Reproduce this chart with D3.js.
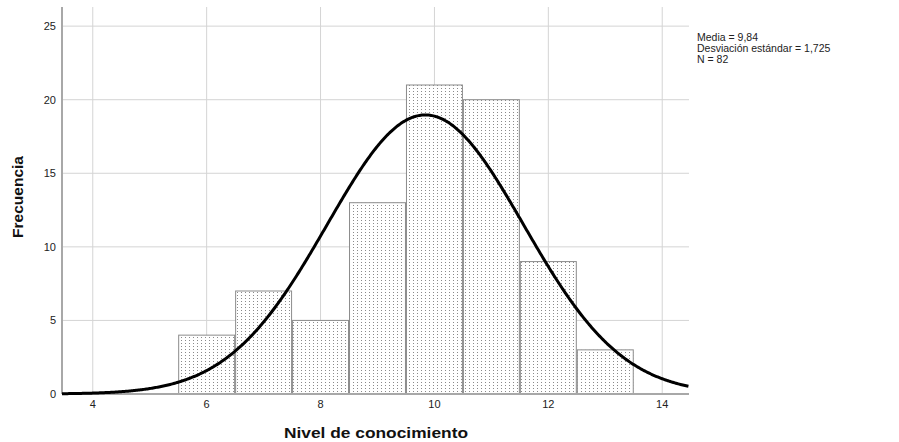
<!DOCTYPE html>
<html>
<head>
<meta charset="utf-8">
<script src="https://cdn.jsdelivr.net/npm/d3@7"></script>
<style>
  body { margin: 0; background: #fff; }
  svg { display: block; font-family: "Liberation Sans", Arial, sans-serif; }
</style>
</head>
<body>
<div id="chart"></div>
<script>
// histogram data
const binCenters = [6, 7, 8, 9, 10, 11, 12, 13];
const binCounts = [4, 7, 5, 13, 21, 20, 9, 3];
const xTicks = [4, 6, 8, 10, 12, 14];
const yTicks = [0, 5, 10, 15, 20, 25];
const statLines = ['Media = 9,84', 'Desviación estándar = 1,725', 'N = 82'];
const meanVal = 9.84;
const sdVal = 1.725;
const nVal = 82;

const width = 899, height = 442;
const margin = { top: 7, right: 210, bottom: 48, left: 62 };

const svg = d3.select('#chart').append('svg')
  .attr('width', width)
  .attr('height', height);

// dotted fill like SPSS
const defs = svg.append('defs');
const pat = defs.append('pattern')
  .attr('id', 'dots')
  .attr('patternUnits', 'userSpaceOnUse')
  .attr('width', 4)
  .attr('height', 3);
pat.append('rect').attr('width', 4).attr('height', 3).attr('fill', '#fff');
pat.append('rect').attr('x', 1).attr('y', 1).attr('width', 1).attr('height', 1).attr('fill', '#8a8a8a');

const x = d3.scaleLinear().domain([3.46, 14.47]).range([margin.left, width - margin.right]);
const y = d3.scaleLinear().domain([0, 26.3]).range([height - margin.bottom, margin.top]);

const g = svg.append('g');

// grid
g.selectAll('.hgrid').data(yTicks.filter(d => d > 0)).enter().append('line')
  .attr('x1', x.range()[0]).attr('x2', x.range()[1])
  .attr('y1', d => y(d)).attr('y2', d => y(d))
  .attr('stroke', '#d4d4d4').attr('stroke-width', 1);
g.selectAll('.vgrid').data(xTicks).enter().append('line')
  .attr('x1', d => x(d)).attr('x2', d => x(d))
  .attr('y1', y.range()[1]).attr('y2', y.range()[0])
  .attr('stroke', '#d4d4d4').attr('stroke-width', 1);

// bars
g.selectAll('.bar').data(binCenters).enter().append('rect')
  .attr('x', d => x(d - 0.5) + 0.5)
  .attr('y', (d, i) => y(binCounts[i]))
  .attr('width', d => x(d + 0.5) - x(d - 0.5) - 1)
  .attr('height', (d, i) => y(0) - y(binCounts[i]))
  .attr('fill', 'url(#dots)')
  .attr('stroke', '#8c8c8c')
  .attr('stroke-width', 1);

// axes lines
g.append('line')
  .attr('x1', x.range()[0]).attr('x2', x.range()[1])
  .attr('y1', y(0)).attr('y2', y(0))
  .attr('stroke', '#a8a8a8').attr('stroke-width', 2);
g.append('line')
  .attr('x1', x.range()[0]).attr('x2', x.range()[0])
  .attr('y1', y.range()[1]).attr('y2', y(0))
  .attr('stroke', '#a8a8a8').attr('stroke-width', 2);

// normal curve from the shown mean / sd / N (bin width 1)
const pdf = v => nVal / (sdVal * Math.sqrt(2 * Math.PI)) * Math.exp(-0.5 * ((v - meanVal) / sdVal) ** 2);
const curveXs = d3.range(x.domain()[0], x.domain()[1] + 0.001, 0.02);
g.append('path')
  .datum(curveXs)
  .attr('d', d3.line().x(d => x(d)).y(d => y(pdf(d))))
  .attr('fill', 'none')
  .attr('stroke', '#000')
  .attr('stroke-width', 3);

// tick labels
g.selectAll('.ylab').data(yTicks).enter().append('text')
  .attr('x', x.range()[0] - 6)
  .attr('y', d => y(d))
  .attr('dy', '0.35em')
  .attr('text-anchor', 'end')
  .attr('font-size', 11)
  .attr('fill', '#222')
  .text(d => d);
g.selectAll('.xlab').data(xTicks).enter().append('text')
  .attr('x', d => x(d))
  .attr('y', y(0) + 14)
  .attr('text-anchor', 'middle')
  .attr('font-size', 11)
  .attr('fill', '#222')
  .text(d => d);

// axis titles
svg.append('text')
  .attr('x', 376)
  .attr('y', 438)
  .attr('text-anchor', 'middle')
  .attr('font-size', 15)
  .attr('font-weight', 'bold')
  .attr('fill', '#111')
  .attr('textLength', 184)
  .attr('lengthAdjust', 'spacingAndGlyphs')
  .text('Nivel de conocimiento');
svg.append('text')
  .attr('transform', 'translate(23,197) rotate(-90)')
  .attr('text-anchor', 'middle')
  .attr('font-size', 15)
  .attr('font-weight', 'bold')
  .attr('fill', '#111')
  .attr('textLength', 82)
  .attr('lengthAdjust', 'spacingAndGlyphs')
  .text('Frecuencia');

// stats box
svg.append('g').selectAll('text').data(statLines).enter().append('text')
  .attr('x', 697)
  .attr('y', (d, i) => 41 + i * 11)
  .attr('font-size', 10.5)
  .attr('fill', '#222')
  .text(d => d);
</script>
</body>
</html>
